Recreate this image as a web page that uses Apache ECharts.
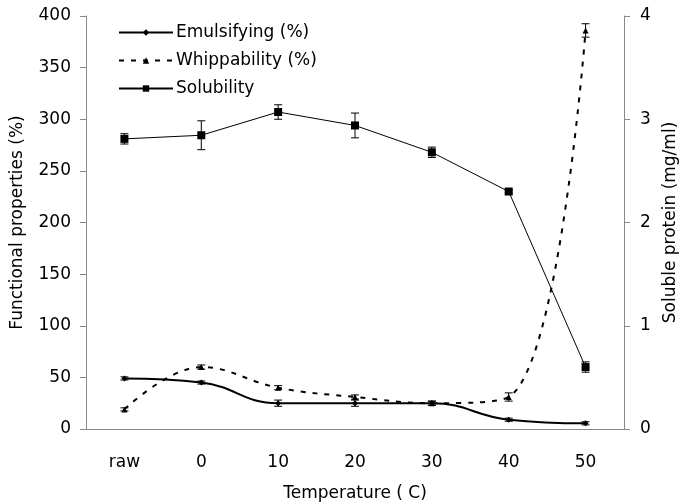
<!DOCTYPE html>
<html>
<head>
<meta charset="utf-8">
<script src="https://cdn.jsdelivr.net/npm/echarts@6/dist/echarts.min.js"></script>
<style>
html,body{margin:0;padding:0;background:#fff;}
#main{width:680px;height:503px;}
</style>
</head>
<body>
<div id="main"></div>
<script>
// categories (temperature)
var temps = ['raw', '0', '10', '20', '30', '40', '50'];

// emulsifying (%) and its error
var emuls = [49, 45, 25, 25, 25, 9, 5.5];
var emulsErr = [1.5, 1.5, 3, 3, 2, 1.5, 1.5];

// whippability (%) and its error
var whip = [19, 60, 40, 31, 25, 31, 386];
var whipErr = [1.5, 2, 2, 2, 2, 4, 6.5];

// solubility (mg/ml, right axis) and its error
var solub = [2.81, 2.845, 3.07, 2.94, 2.68, 2.30, 0.60];
var solubErr = [0.05, 0.14, 0.07, 0.12, 0.05, 0.015, 0.05];

var font = 'DejaVu Sans, Verdana, sans-serif';

// error bar rows: [category index, low, high]
function errRows(vals, errs){
    var rows = [];
    for(var i=0;i<vals.length;i++){
        rows.push([i, vals[i]-errs[i], vals[i]+errs[i]]);
    }
    return rows;
}

function errBar(params, api){
    var x = api.value(0);
    var lo = api.coord([x, api.value(1)]);
    var hi = api.coord([x, api.value(2)]);
    var w = 4;
    var st = {stroke:'#000', lineWidth:1};
    return {
        type:'group',
        children:[
            {type:'line', shape:{x1:lo[0],y1:lo[1],x2:hi[0],y2:hi[1]}, style:st},
            {type:'line', shape:{x1:lo[0]-w,y1:lo[1],x2:lo[0]+w,y2:lo[1]}, style:st},
            {type:'line', shape:{x1:hi[0]-w,y1:hi[1],x2:hi[0]+w,y2:hi[1]}, style:st}
        ]
    };
}

var myChart = echarts.init(document.getElementById('main'));
var option = {
    animation: false,
    backgroundColor: '#fff',
    textStyle: {fontFamily: font},
    grid: {left: 86, right: 56, top: 16, bottom: 74, outerBoundsMode: 'none', containLabel: false},
    legend: {
        orient: 'vertical',
        left: 113,
        top: 19,
        itemWidth: 54,
        itemHeight: 8,
        itemGap: 11,
        textStyle: {fontSize: 17, color: '#000', fontFamily: font, padding: [0,0,0,-2]},
        data: ['Emulsifying (%)', 'Whippability (%)', 'Solubility']
    },
    xAxis: {
        type: 'category',
        data: temps,
        boundaryGap: true,
        name: 'Temperature ( C)',
        nameLocation: 'middle',
        nameGap: 56,
        nameTextStyle: {fontSize: 17, color: '#000'},
        axisLine: {lineStyle: {color: '#888'}},
        axisTick: {length: 6, lineStyle: {color: '#888'}},
        axisLabel: {fontSize: 17, color: '#000', margin: 25}
    },
    yAxis: [{
        type: 'value',
        min: 0, max: 400, interval: 50,
        name: 'Functional properties (%)',
        nameLocation: 'middle',
        nameGap: 60,
        nameTextStyle: {fontSize: 17, color: '#000'},
        axisLine: {show: true, lineStyle: {color: '#888'}},
        axisTick: {show: true, length: 6, lineStyle: {color: '#888'}},
        axisLabel: {fontSize: 17, color: '#000', margin: 15},
        splitLine: {show: false}
    }, {
        type: 'value',
        min: 0, max: 4, interval: 1,
        name: 'Soluble protein (mg/ml)',
        nameLocation: 'middle',
        nameGap: 38,
        nameTextStyle: {fontSize: 17, color: '#000'},
        axisLine: {show: true, lineStyle: {color: '#888'}},
        axisTick: {show: true, length: 6, lineStyle: {color: '#888'}},
        axisLabel: {fontSize: 17, color: '#000', margin: 16},
        splitLine: {show: false}
    }],
    series: [{
        name: 'Emulsifying (%)',
        type: 'line',
        data: emuls,
        smooth: 0.45,
        symbol: 'diamond',
        symbolSize: 6,
        itemStyle: {color: '#000'},
        lineStyle: {color: '#000', width: 2},
        z: 3
    }, {
        name: 'Whippability (%)',
        type: 'line',
        data: whip,
        smooth: 0.4,
        symbol: 'triangle',
        symbolSize: 6,
        itemStyle: {color: '#000'},
        lineStyle: {color: '#000', width: 2, type: [5, 7]},
        z: 3
    }, {
        name: 'Solubility',
        type: 'line',
        yAxisIndex: 1,
        data: solub,
        symbol: 'rect',
        symbolSize: 8,
        itemStyle: {color: '#000'},
        lineStyle: {color: '#000', width: 1},
        z: 3
    }, {
        type: 'custom',
        renderItem: errBar,
        data: errRows(emuls, emulsErr),
        encode: {x: 0, y: [1, 2]},
        z: 4
    }, {
        type: 'custom',
        renderItem: errBar,
        data: errRows(whip, whipErr),
        encode: {x: 0, y: [1, 2]},
        z: 4
    }, {
        type: 'custom',
        yAxisIndex: 1,
        renderItem: errBar,
        data: errRows(solub, solubErr),
        encode: {x: 0, y: [1, 2]},
        z: 4
    }]
};
myChart.setOption(option);
</script>
</body>
</html>
